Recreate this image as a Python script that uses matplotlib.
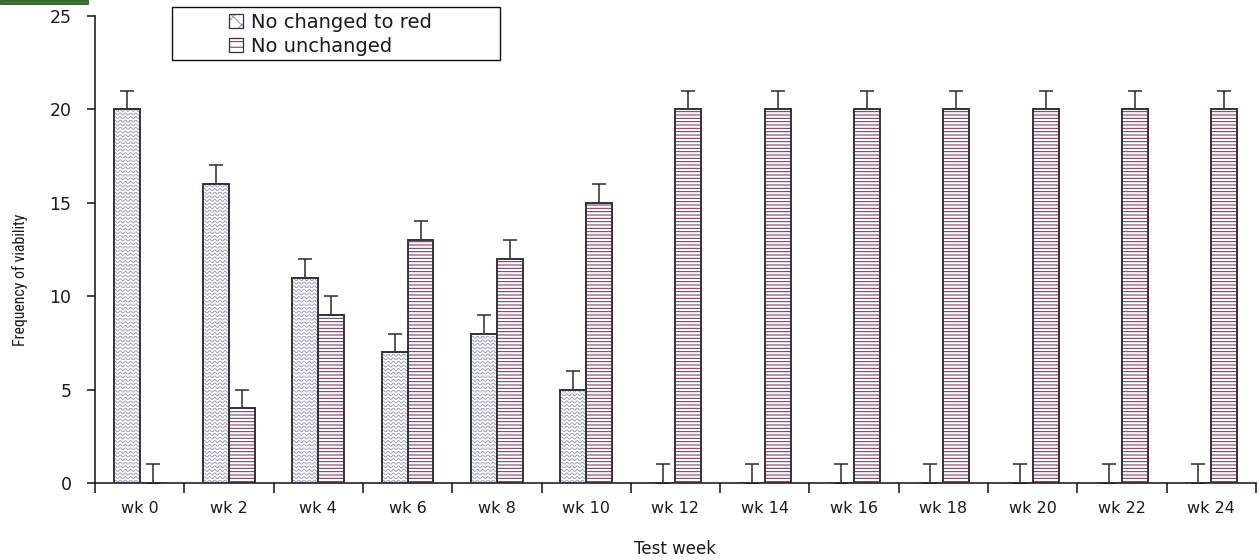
import numpy as np
import matplotlib
matplotlib.use("Agg")
import matplotlib.pyplot as plt
from matplotlib.patches import Patch, Rectangle
from matplotlib.legend_handler import HandlerTuple
from matplotlib import font_manager

# ---- data ----
weeks = ["wk 0", "wk 2", "wk 4", "wk 6", "wk 8", "wk 10", "wk 12",
         "wk 14", "wk 16", "wk 18", "wk 20", "wk 22", "wk 24"]
changed_to_red = [20, 16, 11, 7, 8, 5, 0, 0, 0, 0, 0, 0, 0]
unchanged = [0, 4, 9, 13, 12, 15, 20, 20, 20, 20, 20, 20, 20]
changed_err = [1] * 13
unchanged_err = [1] * 13
series_labels = ["No changed to red", "No unchanged"]

# ---- styling ----
WAVE_COLOR = "#8c93bd"
STRIPE_COLOR = "#6a2a4e"
EDGE_COLOR = "#333333"
TEXT_COLOR = "#1a1a1a"

available = {f.name for f in font_manager.fontManager.ttflist}
narrow_font = next((f for f in ["Liberation Sans Narrow", "DejaVu Sans Condensed",
                                "Roboto Condensed"] if f in available), "DejaVu Sans")

plt.rcParams["font.family"] = ["DejaVu Sans"]
plt.rcParams["hatch.linewidth"] = 0.7

W, H = 1260, 560
fig = plt.figure(figsize=(W / 100, H / 100), dpi=100)
ax = fig.add_axes([95 / W, 1 - 483 / H, 1161 / W, 467 / H])

n = len(weeks)
x = np.arange(n) + 0.5
bw = 0.29

ax.set_xlim(0, n)
ax.set_ylim(0, 25)

# first series: white bars filled with wavy lines clipped to each bar
bars1 = ax.bar(x - bw / 2, changed_to_red, bw, facecolor="white",
               edgecolor="none", linewidth=0, zorder=2)

# pixel scale of the data axes, used to size the wave texture
p0 = ax.transData.transform((0, 0))
p1 = ax.transData.transform((1, 1))
px_x = p1[0] - p0[0]
px_y = p1[1] - p0[1]
period = 5.2 / px_x
amp = 1.0 / px_y
spacing = 3.6 / px_y

for b in bars1:
    x0, w, h = b.get_x(), b.get_width(), b.get_height()
    if h <= 0:
        continue
    xs = np.linspace(x0, x0 + w, 80)
    for yk in np.arange(spacing / 2, h + spacing, spacing):
        ys = yk + amp * np.sin(2 * np.pi * (xs - x0) / period)
        ln, = ax.plot(xs, ys, color=WAVE_COLOR, lw=0.6, zorder=2.5)
        ln.set_clip_path(b)

ax.bar(x - bw / 2, changed_to_red, bw, facecolor="none",
       edgecolor=EDGE_COLOR, linewidth=1.4, zorder=3)

# second series: horizontal stripes
ax.bar(x + bw / 2, unchanged, bw, facecolor="white", edgecolor=STRIPE_COLOR,
       hatch="-----", linewidth=0, zorder=2)
ax.bar(x + bw / 2, unchanged, bw, facecolor="none",
       edgecolor=EDGE_COLOR, linewidth=1.4, zorder=3)

# upper error bars only
ax.errorbar(x - bw / 2, changed_to_red, yerr=[[0] * n, changed_err], fmt="none",
            ecolor="#2a2a2a", elinewidth=1.1, capsize=5, capthick=1.1, zorder=1.5)
ax.errorbar(x + bw / 2, unchanged, yerr=[[0] * n, unchanged_err], fmt="none",
            ecolor="#2a2a2a", elinewidth=1.1, capsize=5, capthick=1.1, zorder=1.5)

# axes
for s in ["top", "right"]:
    ax.spines[s].set_visible(False)
for s in ["left", "bottom"]:
    ax.spines[s].set_color("#111111")
    ax.spines[s].set_linewidth(1.1)

ax.set_yticks([0, 5, 10, 15, 20, 25])
ax.tick_params(axis="y", direction="out", length=6, width=1.1, colors="#111111",
               labelsize=12.5, labelcolor=TEXT_COLOR, pad=11)
ax.set_xticks(np.arange(n + 1))
ax.set_xticklabels([])
ax.tick_params(axis="x", direction="out", length=7, width=1.1, colors="#111111")
ax.set_xticks(x, minor=True)
ax.set_xticklabels(weeks, minor=True)
ax.tick_params(axis="x", which="minor", length=0, labelsize=11.5,
               labelcolor=TEXT_COLOR, pad=13)

ax.set_xlabel("Test week", fontsize=12, color=TEXT_COLOR, labelpad=17)
ax.set_ylabel("Frequency of viability", fontsize=11.4, color=TEXT_COLOR,
              family=narrow_font)
ax.yaxis.set_label_coords(-0.058, 0.435)

# legend with its own box
h1 = (Patch(facecolor="white", edgecolor=WAVE_COLOR, hatch="xx", linewidth=0),
      Patch(facecolor="none", edgecolor=EDGE_COLOR, linewidth=0.9))
h2 = (Patch(facecolor="white", edgecolor=STRIPE_COLOR, hatch="---", linewidth=0),
      Patch(facecolor="none", edgecolor=EDGE_COLOR, linewidth=0.9))
leg = fig.legend([h1, h2], series_labels, handler_map={tuple: HandlerTuple(ndivide=1)},
                 loc="upper left", bbox_to_anchor=(229 / W, 1 - 13 / H),
                 frameon=False, fontsize=14, handlelength=0.72, handleheight=0.72,
                 handletextpad=0.4, labelspacing=0.25, borderpad=0, borderaxespad=0)
for t in leg.get_texts():
    t.set_color(TEXT_COLOR)
fig.patches.append(Rectangle((172 / W, 1 - 60 / H), 328 / W, 53 / H,
                             transform=fig.transFigure, facecolor="none",
                             edgecolor="#111111", linewidth=1.0))

# thin green strip in the top-left corner
fig.patches.append(Rectangle((0, 1 - 4 / H), 88 / W, 4 / H, transform=fig.transFigure,
                             facecolor="#3b7a2e", edgecolor="#24521c", linewidth=0.6))

fig.savefig("out.png", dpi=100)
